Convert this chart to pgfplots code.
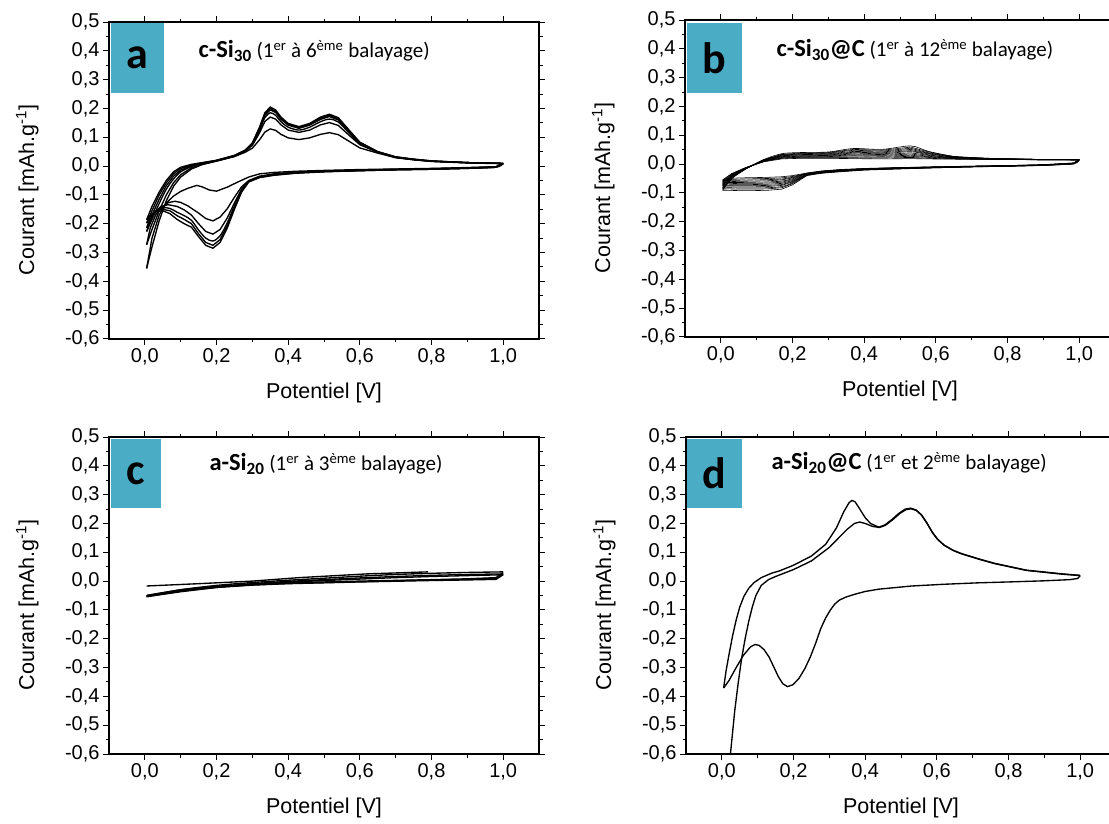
\documentclass[border=0pt]{standalone}
\usepackage{fontspec}
\setmainfont{Liberation Sans}
\newfontfamily\calib{Carlito}
\usepackage{pgfplots}
\usepackage{pgfplotstable}
\pgfplotsset{compat=1.18}
\definecolor{tealbox}{RGB}{75,172,198}

\pgfplotstableread{
x c1 c2 c3 c4 c5 c6 c7 c8 c9 c10 c11 c12
1.0 .015 .015 .015 .015 .015 .015 .015 .015 .015 .015 .015 .015
0.985 .004 .004 .003 .003 .003 .002 .002 .002 .001 .001 .001 .000
0.9 -.002 -.002 -.003 -.003 -.003 -.003 -.004 -.004 -.004 -.004 -.005 -.005
0.8 -.005 -.005 -.005 -.006 -.006 -.006 -.006 -.007 -.007 -.007 -.007 -.008
0.7 -.007 -.007 -.008 -.008 -.008 -.008 -.009 -.009 -.009 -.009 -.010 -.010
0.6 -.009 -.010 -.010 -.010 -.011 -.011 -.011 -.012 -.012 -.012 -.013 -.013
0.5 -.012 -.012 -.013 -.013 -.014 -.014 -.014 -.015 -.015 -.016 -.016 -.017
0.4 -.015 -.016 -.016 -.017 -.017 -.018 -.018 -.019 -.019 -.020 -.020 -.021
0.33 -.019 -.020 -.021 -.021 -.022 -.023 -.023 -.024 -.025 -.025 -.026 -.027
0.28 -.024 -.025 -.025 -.026 -.027 -.028 -.028 -.029 -.030 -.031 -.031 -.032
0.24 -.031 -.032 -.032 -.033 -.034 -.035 -.036 -.037 -.038 -.038 -.039 -.040
0.2 -.040 -.043 -.046 -.048 -.051 -.054 -.057 -.060 -.062 -.065 -.068 -.072
0.17 -.044 -.048 -.052 -.055 -.059 -.063 -.067 -.071 -.074 -.078 -.082 -.087
0.13 -.046 -.050 -.054 -.058 -.062 -.066 -.070 -.074 -.078 -.082 -.086 -.091
0.09 -.047 -.051 -.055 -.059 -.063 -.067 -.071 -.075 -.079 -.083 -.087 -.092
0.05 -.048 -.052 -.056 -.060 -.064 -.067 -.071 -.075 -.079 -.083 -.087 -.092
0.02 -.050 -.054 -.057 -.061 -.064 -.068 -.072 -.075 -.079 -.082 -.086 -.091
0.005 -.055 -.058 -.061 -.065 -.068 -.071 -.074 -.077 -.081 -.084 -.087 -.091
}\bcath

\pgfplotstableread{
x a1 a2 a3 a4 a5 a6 a7 a8 a9 a10 a11 a12
0.005 -.055 -.058 -.061 -.065 -.068 -.071 -.074 -.077 -.081 -.084 -.087 -.091
0.03 -.033 -.035 -.036 -.038 -.039 -.041 -.043 -.044 -.046 -.047 -.049 -.051
0.07 -.012 -.012 -.013 -.013 -.014 -.014 -.014 -.015 -.015 -.016 -.016 -.017
0.12 .008 .009 .009 .010 .011 .012 .012 .013 .014 .015 .015 .016
0.17 .018 .020 .021 .023 .025 .026 .028 .029 .031 .033 .034 .036
0.22 .020 .022 .024 .025 .027 .029 .031 .033 .035 .036 .038 .040
0.3 .020 .022 .024 .026 .028 .030 .032 .034 .036 .038 .040 .042
0.37 .019 .022 .025 .029 .032 .035 .038 .041 .044 .048 .051 .054
0.45 .018 .021 .024 .027 .030 .033 .036 .039 .042 .045 .048 .051
0.53 .019 .023 .027 .031 .035 .039 .043 .047 .051 .055 .059 .063
0.58 .018 .020 .023 .025 .027 .030 .032 .035 .037 .039 .042 .044
0.65 .017 .018 .019 .020 .021 .022 .022 .023 .024 .025 .026 .027
0.75 .016 .016 .017 .017 .017 .018 .018 .019 .019 .019 .020 .020
0.9 .015 .015 .015 .015 .015 .016 .016 .016 .016 .016 .016 .016
1.0 .015 .015 .015 .015 .015 .015 .015 .015 .015 .015 .015 .015
}\banod

\pgfplotsset{cv/.style={
  scale only axis, width=430pt, height=317pt,
  xmin=-0.1, xmax=1.1, ymin=-0.6, ymax=0.5,
  xtick={0,0.2,0.4,0.6,0.8,1},
  ytick={-0.6,-0.5,-0.4,-0.3,-0.2,-0.1,0,0.1,0.2,0.3,0.4,0.5},
  minor x tick num=1, minor y tick num=1,
  tick align=outside,
  major tick length=6pt, minor tick length=3.5pt,
  axis line style={line width=1.1pt},
  every tick/.style={line width=1pt, black},
  /pgf/number format/fixed, /pgf/number format/fixed zerofill,
  /pgf/number format/precision=1, /pgf/number format/use comma,
  /pgf/number format/assume math mode=true,
  ticklabel style={font=\fontsize{20}{24}\selectfont},
  xlabel={Potentiel [V]},
  ylabel={Courant [mAh.g\textsuperscript{-1}]},
  xlabel style={font=\fontsize{21.5}{26}\selectfont, at={(axis description cs:0.5,-0.17)}, anchor=center},
  ylabel style={font=\fontsize{21.5}{26}\selectfont, at={(axis description cs:-0.19,0.47)}, anchor=center},
  cycle list={{black, solid, no markers, smooth, tension=0.5}},
  every axis plot post/.append style={line width=1.35pt},
}}

\newcommand{\ttl}[3]{{\calib\fontsize{24.5}{28}\selectfont\textbf{#1}\fontsize{21}{25}\selectfont\ (1\textsuperscript{#2} #3 balayage)}}

\begin{document}
\begin{tikzpicture}[x=1pt,y=1pt]
\useasboundingbox (0,0) rectangle (1109,823);

% ---------------- panel a ----------------
\begin{axis}[cv, at={(109pt,484pt)}, anchor=south west]
% cathodic
\addplot coordinates {(1.0,0.009)(0.98,-0.002)(0.9,-0.005)(0.8,-0.008)(0.7,-0.01)(0.6,-0.012)(0.5,-0.015)(0.42,-0.018)(0.36,-0.022)(0.32,-0.027)(0.29,-0.038)(0.26,-0.055)(0.23,-0.073)(0.2,-0.087)(0.18,-0.083)(0.16,-0.072)(0.145,-0.067)(0.12,-0.077)(0.1,-0.088)(0.08,-0.104)(0.06,-0.128)(0.04,-0.17)(0.02,-0.25)(0.005,-0.355)};
\addplot coordinates {(1.0,0.009)(0.98,-0.003)(0.9,-0.006)(0.8,-0.009)(0.7,-0.011)(0.6,-0.014)(0.5,-0.017)(0.42,-0.021)(0.36,-0.027)(0.32,-0.035)(0.29,-0.05)(0.27,-0.072)(0.25,-0.108)(0.23,-0.148)(0.21,-0.177)(0.19,-0.19)(0.17,-0.182)(0.15,-0.163)(0.12,-0.138)(0.1,-0.126)(0.084,-0.122)(0.065,-0.127)(0.045,-0.145)(0.03,-0.17)(0.015,-0.215)(0.005,-0.273)};
\addplot coordinates {(1.0,0.009)(0.98,-0.003)(0.9,-0.007)(0.8,-0.01)(0.7,-0.012)(0.6,-0.015)(0.5,-0.018)(0.42,-0.022)(0.36,-0.029)(0.32,-0.037)(0.29,-0.052)(0.27,-0.08)(0.25,-0.128)(0.23,-0.18)(0.21,-0.22)(0.19,-0.236)(0.17,-0.227)(0.15,-0.2)(0.13,-0.17)(0.11,-0.152)(0.09,-0.14)(0.065,-0.134)(0.045,-0.14)(0.03,-0.158)(0.015,-0.19)(0.005,-0.227)};
\addplot coordinates {(1.0,0.009)(0.98,-0.004)(0.9,-0.007)(0.8,-0.01)(0.7,-0.012)(0.6,-0.015)(0.5,-0.019)(0.42,-0.023)(0.36,-0.03)(0.32,-0.038)(0.29,-0.053)(0.27,-0.085)(0.25,-0.138)(0.23,-0.197)(0.21,-0.242)(0.19,-0.26)(0.17,-0.25)(0.15,-0.222)(0.13,-0.188)(0.11,-0.172)(0.09,-0.16)(0.07,-0.147)(0.05,-0.145)(0.03,-0.16)(0.015,-0.185)(0.005,-0.215)};
\addplot coordinates {(1.0,0.009)(0.98,-0.004)(0.9,-0.008)(0.8,-0.011)(0.7,-0.013)(0.6,-0.016)(0.5,-0.019)(0.42,-0.024)(0.36,-0.031)(0.32,-0.039)(0.29,-0.054)(0.27,-0.088)(0.25,-0.145)(0.23,-0.207)(0.21,-0.255)(0.19,-0.275)(0.17,-0.265)(0.15,-0.235)(0.13,-0.2)(0.11,-0.185)(0.09,-0.172)(0.07,-0.155)(0.05,-0.15)(0.03,-0.158)(0.015,-0.177)(0.005,-0.198)};
\addplot coordinates {(1.0,0.009)(0.98,-0.004)(0.9,-0.008)(0.8,-0.011)(0.7,-0.013)(0.6,-0.016)(0.5,-0.02)(0.42,-0.025)(0.36,-0.032)(0.32,-0.04)(0.29,-0.055)(0.27,-0.09)(0.25,-0.15)(0.23,-0.215)(0.21,-0.265)(0.19,-0.285)(0.17,-0.275)(0.15,-0.245)(0.13,-0.212)(0.11,-0.2)(0.09,-0.185)(0.07,-0.165)(0.05,-0.155)(0.03,-0.158)(0.015,-0.17)(0.005,-0.186)};
% anodic
\addplot coordinates {(0.005,-0.355)(0.02,-0.28)(0.04,-0.19)(0.06,-0.12)(0.08,-0.07)(0.1,-0.038)(0.13,-0.01)(0.16,0.005)(0.2,0.017)(0.25,0.033)(0.28,0.048)(0.3,0.062)(0.32,0.091)(0.335,0.118)(0.35,0.129)(0.365,0.124)(0.38,0.11)(0.4,0.098)(0.43,0.092)(0.46,0.098)(0.49,0.11)(0.515,0.116)(0.54,0.109)(0.57,0.086)(0.6,0.063)(0.65,0.045)(0.7,0.029)(0.75,0.022)(0.8,0.016)(0.9,0.011)(0.97,0.009)(1.0,0.009)};
\addplot coordinates {(0.005,-0.273)(0.02,-0.22)(0.04,-0.155)(0.06,-0.1)(0.08,-0.058)(0.1,-0.03)(0.13,-0.006)(0.16,0.007)(0.2,0.018)(0.25,0.034)(0.28,0.052)(0.3,0.072)(0.32,0.115)(0.335,0.155)(0.35,0.17)(0.365,0.163)(0.38,0.143)(0.4,0.125)(0.43,0.117)(0.46,0.125)(0.49,0.143)(0.515,0.151)(0.54,0.141)(0.57,0.107)(0.6,0.074)(0.65,0.048)(0.7,0.03)(0.75,0.022)(0.8,0.017)(0.9,0.012)(0.97,0.01)(1.0,0.009)};
\addplot coordinates {(0.005,-0.227)(0.02,-0.185)(0.04,-0.13)(0.06,-0.08)(0.08,-0.045)(0.1,-0.02)(0.13,-0.002)(0.16,0.009)(0.2,0.019)(0.25,0.035)(0.28,0.053)(0.3,0.075)(0.32,0.124)(0.335,0.168)(0.35,0.185)(0.365,0.176)(0.38,0.154)(0.4,0.135)(0.43,0.125)(0.46,0.135)(0.49,0.154)(0.515,0.163)(0.54,0.153)(0.57,0.115)(0.6,0.078)(0.65,0.049)(0.7,0.031)(0.75,0.023)(0.8,0.017)(0.9,0.012)(0.97,0.01)(1.0,0.009)};
\addplot coordinates {(0.005,-0.215)(0.02,-0.17)(0.04,-0.115)(0.06,-0.068)(0.08,-0.035)(0.1,-0.014)(0.13,0.002)(0.16,0.01)(0.2,0.019)(0.25,0.036)(0.28,0.054)(0.3,0.078)(0.32,0.129)(0.335,0.176)(0.35,0.195)(0.365,0.186)(0.38,0.162)(0.4,0.142)(0.43,0.131)(0.46,0.142)(0.49,0.162)(0.515,0.172)(0.54,0.16)(0.57,0.12)(0.6,0.08)(0.65,0.049)(0.7,0.031)(0.75,0.023)(0.8,0.017)(0.9,0.012)(0.97,0.01)(1.0,0.009)};
\addplot coordinates {(0.005,-0.198)(0.02,-0.155)(0.04,-0.1)(0.06,-0.058)(0.08,-0.027)(0.1,-0.008)(0.13,0.004)(0.16,0.011)(0.2,0.02)(0.25,0.037)(0.28,0.055)(0.3,0.079)(0.32,0.132)(0.335,0.181)(0.35,0.2)(0.365,0.19)(0.38,0.166)(0.4,0.145)(0.43,0.134)(0.46,0.145)(0.49,0.166)(0.515,0.176)(0.54,0.164)(0.57,0.123)(0.6,0.082)(0.65,0.05)(0.7,0.032)(0.75,0.024)(0.8,0.018)(0.9,0.012)(0.97,0.01)(1.0,0.009)};
\addplot coordinates {(0.005,-0.186)(0.02,-0.14)(0.04,-0.09)(0.06,-0.05)(0.08,-0.02)(0.1,-0.004)(0.13,0.006)(0.16,0.012)(0.2,0.02)(0.25,0.037)(0.28,0.055)(0.3,0.08)(0.32,0.135)(0.335,0.185)(0.35,0.205)(0.365,0.195)(0.38,0.17)(0.4,0.148)(0.43,0.137)(0.46,0.148)(0.49,0.17)(0.515,0.18)(0.54,0.168)(0.57,0.125)(0.6,0.083)(0.65,0.05)(0.7,0.032)(0.75,0.024)(0.8,0.018)(0.9,0.012)(0.97,0.01)(1.0,0.009)};
\end{axis}

% ---------------- panel b ----------------
\begin{axis}[cv, at={(685pt,486pt)}, anchor=south west,
  every axis plot post/.append style={line width=0.6pt}]
\foreach \k in {1,...,12}{
  \addplot table[x=x, y=c\k] {\bcath};
  \addplot table[x=x, y=a\k] {\banod};
}
\end{axis}

% ---------------- panel c ----------------
\begin{axis}[cv, at={(109pt,69pt)}, anchor=south west]
\addplot coordinates {(1.0,0.03)(0.98,0.012)(0.9,0.008)(0.8,0.005)(0.6,0.0)(0.4,-0.006)(0.3,-0.01)(0.2,-0.018)(0.1,-0.03)(0.005,-0.05)};
\addplot coordinates {(1.0,0.025)(0.98,0.01)(0.9,0.006)(0.8,0.004)(0.6,-0.002)(0.4,-0.008)(0.3,-0.013)(0.2,-0.02)(0.1,-0.033)(0.005,-0.052)};
\addplot coordinates {(1.0,0.022)(0.98,0.006)(0.9,0.004)(0.8,0.002)(0.6,-0.003)(0.4,-0.009)(0.3,-0.014)(0.2,-0.022)(0.1,-0.035)(0.005,-0.054)};
\addplot coordinates {(0.005,-0.05)(0.1,-0.03)(0.2,-0.015)(0.3,-0.005)(0.4,0.003)(0.5,0.01)(0.6,0.017)(0.7,0.023)(0.8,0.027)(0.9,0.03)(1.0,0.032)};
\addplot coordinates {(0.005,-0.052)(0.1,-0.034)(0.2,-0.02)(0.3,-0.009)(0.4,-0.001)(0.5,0.005)(0.6,0.011)(0.7,0.016)(0.8,0.02)(0.9,0.023)(1.0,0.025)};
\addplot coordinates {(0.005,-0.054)(0.1,-0.037)(0.2,-0.022)(0.3,-0.012)(0.4,-0.004)(0.5,0.002)(0.6,0.007)(0.7,0.012)(0.8,0.016)(0.9,0.019)(1.0,0.022)};
\addplot coordinates {(0.005,-0.017)(0.15,-0.009)(0.3,0.0)(0.43,0.012)(0.62,0.025)(0.79,0.032)};
\end{axis}

% ---------------- panel d ----------------
\begin{axis}[cv, at={(686pt,69pt)}, anchor=south west]
\addplot coordinates {(1.0,0.019)(0.993,0.009)(0.97,0.005)(0.9,0.001)(0.8,-0.003)(0.716,-0.006)(0.62,-0.011)(0.53,-0.017)(0.438,-0.028)(0.4,-0.036)(0.37,-0.046)(0.345,-0.056)(0.328,-0.066)(0.315,-0.08)(0.303,-0.1)(0.29,-0.127)(0.276,-0.165)(0.262,-0.215)(0.247,-0.263)(0.232,-0.303)(0.215,-0.338)(0.198,-0.36)(0.183,-0.366)(0.17,-0.356)(0.157,-0.33)(0.145,-0.298)(0.132,-0.264)(0.118,-0.238)(0.104,-0.223)(0.093,-0.22)(0.08,-0.228)(0.06,-0.258)(0.04,-0.3)(0.02,-0.345)(0.005,-0.371)};
\addplot coordinates {(0.005,-0.371)(0.012,-0.31)(0.02,-0.255)(0.03,-0.19)(0.04,-0.135)(0.05,-0.09)(0.062,-0.052)(0.075,-0.025)(0.09,-0.005)(0.11,0.012)(0.14,0.028)(0.16,0.035)(0.2,0.055)(0.25,0.087)(0.29,0.128)(0.32,0.185)(0.34,0.24)(0.355,0.272)(0.363,0.28)(0.372,0.275)(0.385,0.25)(0.4,0.22)(0.415,0.2)(0.438,0.187)(0.455,0.195)(0.475,0.214)(0.495,0.236)(0.512,0.25)(0.527,0.253)(0.542,0.247)(0.557,0.23)(0.572,0.202)(0.587,0.17)(0.602,0.145)(0.62,0.125)(0.645,0.107)(0.67,0.095)(0.72,0.076)(0.76,0.062)(0.85,0.038)(0.95,0.025)(1.0,0.02)};
\addplot coordinates {(0.02,-0.65)(0.028,-0.55)(0.036,-0.45)(0.045,-0.36)(0.055,-0.27)(0.065,-0.2)(0.075,-0.14)(0.085,-0.09)(0.095,-0.05)(0.11,-0.015)(0.13,0.005)(0.15,0.016)(0.2,0.04)(0.25,0.07)(0.3,0.117)(0.33,0.155)(0.35,0.18)(0.37,0.2)(0.385,0.205)(0.4,0.2)(0.42,0.19)(0.44,0.186)(0.457,0.194)(0.477,0.213)(0.497,0.235)(0.514,0.248)(0.528,0.251)(0.543,0.245)(0.558,0.228)(0.573,0.2)(0.588,0.168)(0.603,0.144)(0.621,0.124)(0.646,0.106)(0.67,0.094)(0.72,0.075)(0.76,0.061)(0.85,0.037)(0.95,0.024)(1.0,0.019)};
\end{axis}

% ---------------- boxes and titles ----------------
\fill[tealbox] (111,730) rectangle (164,800);
\node[font=\calib\bfseries\fontsize{44}{50}\selectfont] at (137.5,765) {a};
\node[anchor=base west] at (195,765) {\ttl{c-Si\textsubscript{30}}{er}{à 6\textsuperscript{ème}}};

\fill[tealbox] (687,730) rectangle (742,800);
\node[font=\calib\bfseries\fontsize{44}{50}\selectfont] at (714.5,765) {b};
\node[anchor=base west] at (773,766) {\ttl{c-Si\textsubscript{30}@C}{er}{à 12\textsuperscript{ème}}};

\fill[tealbox] (111,315) rectangle (161,384);
\node[font=\calib\bfseries\fontsize{44}{50}\selectfont] at (136,349.5) {c};
\node[anchor=base west] at (206,352) {\ttl{a-Si\textsubscript{20}}{er}{à 3\textsuperscript{ème}}};

\fill[tealbox] (687,315) rectangle (742,384);
\node[font=\calib\bfseries\fontsize{44}{50}\selectfont] at (714.5,349.5) {d};
\node[anchor=base west] at (768,353) {\ttl{a-Si\textsubscript{20}@C}{er}{et 2\textsuperscript{ème}}};
\end{tikzpicture}
\end{document}
